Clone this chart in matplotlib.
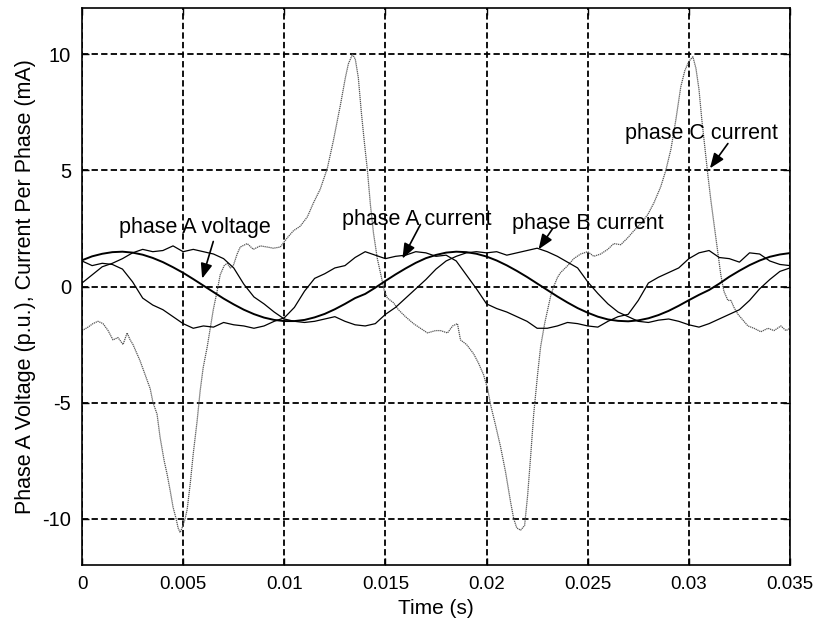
import matplotlib
matplotlib.use("Agg")
import matplotlib.pyplot as plt

# time base for voltage and phase A/B currents (s)
t = [i * 0.0005 for i in range(71)]

volt_a = [1.13, 1.30, 1.41, 1.48, 1.50, 1.46, 1.37, 1.23, 1.05, 0.83,
          0.59, 0.32, 0.04, -0.24, -0.52, -0.77, -1.00, -1.19, -1.34, -1.44,
          -1.49, -1.49, -1.44, -1.33, -1.18, -0.98, -0.75, -0.50, -0.32, -0.05,
          0.24, 0.52, 0.78, 1.02, 1.22, 1.36, 1.46, 1.50, 1.48, 1.41,
          1.29, 1.12, 0.91, 0.67, 0.41, 0.13, -0.15, -0.43, -0.69, -0.93,
          -1.13, -1.30, -1.42, -1.48, -1.50, -1.46, -1.37, -1.23, -1.05, -0.83,
          -0.59, -0.36, -0.15, 0.12, 0.42, 0.68, 0.92, 1.12, 1.28, 1.38,
          1.44]

cur_a = [1.1, 0.9, 1.0, 0.95, 0.75, 0.2, -0.5, -0.8, -1.0, -1.3,
         -1.6, -1.8, -1.7, -1.75, -1.55, -1.65, -1.7, -1.8, -1.7, -1.5,
         -1.35, -0.9, -0.2, 0.35, 0.55, 0.8, 0.9, 1.25, 1.5, 1.35,
         1.2, 1.3, 1.35, 1.5, 1.45, 1.3, 1.35, 1.1, 0.5, -0.1,
         -0.75, -0.95, -1.1, -1.3, -1.5, -1.8, -1.8, -1.7, -1.55, -1.6,
         -1.7, -1.75, -1.5, -1.3, -1.2, -0.6, 0.15, 0.4, 0.6, 0.8,
         1.2, 1.45, 1.55, 1.25, 1.2, 1.05, 1.45, 1.4, 1.1, 0.95,
         0.9]

cur_b = [0.15, 0.5, 0.85, 1.0, 1.2, 1.45, 1.6, 1.5, 1.55, 1.75,
         1.5, 1.6, 1.5, 1.4, 1.2, 0.8, 0.1, -0.45, -0.75, -1.1,
         -1.4, -1.5, -1.55, -1.5, -1.4, -1.3, -1.5, -1.65, -1.7, -1.6,
         -1.2, -0.9, -0.5, -0.1, 0.3, 0.75, 1.1, 1.3, 1.45, 1.5,
         1.45, 1.5, 1.35, 1.45, 1.55, 1.65, 1.5, 1.3, 1.05, 0.8,
         0.2, -0.3, -0.75, -1.1, -1.3, -1.5, -1.55, -1.45, -1.4, -1.5,
         -1.65, -1.75, -1.6, -1.4, -1.2, -1.0, -0.6, -0.1, 0.3, 0.65,
         0.8]

# phase C current, read at irregular times
t_c = [0, 0.00030, 0.00054, 0.00079, 0.00104, 0.00129, 0.00153, 0.00178, 0.00203, 0.00223,
       0.00238, 0.00252, 0.00272, 0.00287, 0.00312, 0.00337, 0.00351, 0.00371, 0.00386, 0.00406,
       0.00421, 0.00436, 0.00450, 0.00465, 0.00475, 0.00485, 0.00495, 0.00510, 0.00520, 0.00535,
       0.00550, 0.00569, 0.00584, 0.00599, 0.00619, 0.00634, 0.00649, 0.00668, 0.00683, 0.00703,
       0.00718, 0.00733, 0.00748, 0.00767, 0.00782, 0.00817, 0.00847, 0.00881, 0.00916, 0.00946,
       0.00980, 0.01015, 0.01045, 0.01079, 0.01114, 0.01144, 0.01178, 0.01213, 0.01243, 0.01277,
       0.01302, 0.01317, 0.01337, 0.01351, 0.01366, 0.01381, 0.01396, 0.01411, 0.01426, 0.01441,
       0.01460, 0.01475, 0.01495, 0.01510, 0.01540, 0.01564, 0.01599, 0.01639, 0.01673, 0.01708,
       0.01748, 0.01772, 0.01807, 0.01832, 0.01856, 0.01871, 0.01901, 0.01936, 0.01960, 0.01985,
       0.02005, 0.02020, 0.02045, 0.02069, 0.02094, 0.02119, 0.02134, 0.02149, 0.02168, 0.02188,
       0.02203, 0.02218, 0.02233, 0.02252, 0.02267, 0.02287, 0.02302, 0.02317, 0.02332, 0.02351,
       0.02366, 0.02401, 0.02431, 0.02465, 0.02500, 0.02530, 0.02564, 0.02599, 0.02629, 0.02663,
       0.02698, 0.02728, 0.02762, 0.02797, 0.02827, 0.02861, 0.02886, 0.02911, 0.02936, 0.02960,
       0.02980, 0.03000, 0.03020, 0.03035, 0.03050, 0.03064, 0.03079, 0.03094, 0.03109, 0.03129,
       0.03144, 0.03158, 0.03173, 0.03193, 0.03208, 0.03223, 0.03243, 0.03272, 0.03292, 0.03322,
       0.03356, 0.03391, 0.03421, 0.03455, 0.03480, 0.03500]
cur_c = [-1.9, -1.75, -1.6, -1.5, -1.6, -1.9, -2.3, -2.2, -2.5, -2.0,
         -2.3, -2.5, -2.9, -3.2, -3.8, -4.4, -5.0, -5.5, -6.5, -7.5,
         -8.1, -8.8, -9.5, -10.0, -10.4, -10.6, -10.4, -10.0, -9.6, -8.5,
         -7.2, -5.8, -4.5, -3.5, -2.6, -1.8, -1.0, -0.2, 0.5, 0.9,
         1.0, 0.8, 0.9, 1.4, 1.7, 1.85, 1.6, 1.75, 1.7, 1.65,
         1.7, 2.1, 2.4, 2.6, 3.0, 3.6, 4.2, 5.1, 6.3, 7.8,
         9.0, 9.6, 10.0, 9.8, 9.0, 7.5, 6.2, 5.0, 3.5, 2.3,
         1.2, 0.6, -0.2, -0.5, -0.7, -1.0, -1.3, -1.6, -1.8, -2.0,
         -1.9, -1.9, -2.0, -1.7, -1.6, -2.3, -2.5, -2.9, -3.3, -3.8,
         -4.4, -5.1, -6.0, -6.9, -8.0, -9.3, -10.0, -10.4, -10.5, -10.3,
         -9.0, -7.3, -5.5, -3.8, -2.6, -1.6, -1.0, -0.4, 0.0, 0.4,
         0.6, 0.9, 1.2, 1.4, 1.5, 1.3, 1.4, 1.6, 1.85, 1.8,
         2.1, 2.4, 2.7, 3.1, 3.6, 4.3, 5.0, 5.9, 7.2, 8.6,
         9.3, 9.7, 9.9, 9.4, 8.5, 7.2, 6.0, 4.8, 3.7, 2.4,
         1.4, 0.5, -0.2, -0.6, -0.6, -0.9, -1.2, -1.5, -1.7, -1.8,
         -1.95, -1.8, -1.9, -1.7, -1.9, -1.8]

xticks = [0, 0.005, 0.01, 0.015, 0.02, 0.025, 0.03, 0.035]
xtick_labels = ['0', '0.005', '0.01', '0.015', '0.02', '0.025', '0.03', '0.035']
yticks = [-10, -5, 0, 5, 10]

# label text, text position, arrow start, arrow tip
labels = ['phase A voltage', 'phase A current', 'phase B current', 'phase C current']
label_xy = [(0.0056, 2.55), (0.01655, 2.9), (0.0250, 2.7), (0.0306, 6.6)]
arrow_from = [(0.00649, 1.94), (0.01673, 2.67), (0.02327, 2.5), (0.03193, 6.16)]
arrow_to = [(0.00594, 0.34), (0.01584, 1.2), (0.02257, 1.6), (0.03104, 5.09)]

plt.rcParams['font.family'] = ['Liberation Sans', 'DejaVu Sans']

fig = plt.figure(figsize=(8.15, 6.26), dpi=100)
ax = fig.add_axes([82 / 815, 61 / 626, 708 / 815, 557 / 626])

ax.plot(t_c, cur_c, color='#555555', lw=0.9, ls=(0, (1, 0.6)))
ax.plot(t, cur_a, color='black', lw=0.9)
ax.plot(t, cur_b, color='black', lw=0.9)
ax.plot(t, volt_a, color='black', lw=1.4)

ax.set_xlim(0, 0.035)
ax.set_ylim(-12, 12)
ax.set_xticks(xticks)
ax.set_xticklabels(xtick_labels, fontsize=13.5)
ax.set_yticks(yticks)
ax.set_yticklabels([str(v) for v in yticks], fontsize=14.5)
ax.tick_params(direction='in', length=5, width=1, top=True, right=True, pad=8)
ax.grid(True, color='black', lw=1.3, ls=(0, (3.5, 1.8)))
for s in ax.spines.values():
    s.set_linewidth(1.2)

for txt, xy, a0, a1 in zip(labels, label_xy, arrow_from, arrow_to):
    ax.text(xy[0], xy[1], txt, ha='center', va='center', fontsize=15.5)
    ax.annotate('', xy=a1, xytext=a0,
                arrowprops=dict(arrowstyle='-|>,head_length=0.9,head_width=0.35',
                                color='black', lw=1.2, shrinkA=0, shrinkB=0))

ax.set_xlabel('Time (s)', fontsize=15, labelpad=4)
ax.set_ylabel('Phase A Voltage (p.u.), Current Per Phase (mA)', fontsize=15.5, labelpad=4)

fig.savefig('out.png', dpi=100)
